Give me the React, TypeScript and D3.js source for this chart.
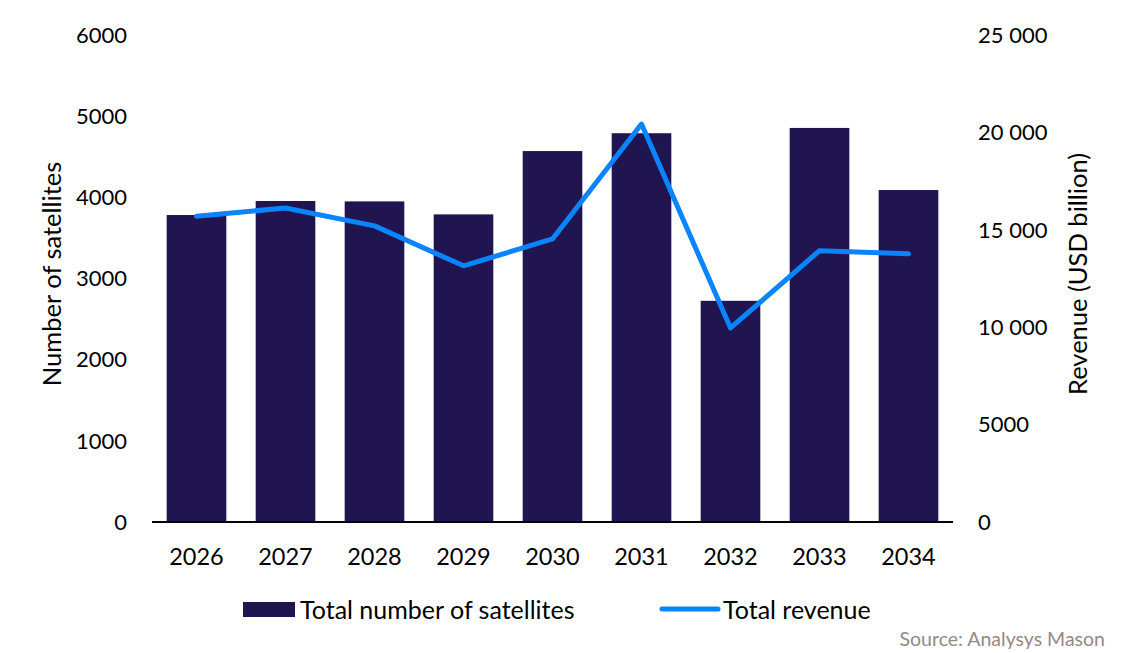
import React from 'react';
import * as d3 from 'd3';

const years = ['2026', '2027', '2028', '2029', '2030', '2031', '2032', '2033', '2034'];
const satellites = [3782, 3955, 3950, 3790, 4570, 4790, 2725, 4855, 4090];
const revenue = [15700, 16120, 15200, 13150, 14530, 20430, 9960, 13930, 13770];
const leftTicks = [0, 1000, 2000, 3000, 4000, 5000, 6000];
const rightTicks = [0, 5000, 10000, 15000, 20000, 25000];

const W = 1125;
const H = 653;
const font = 'Lato, "Open Sans", sans-serif';

const App = () => {
  const x = d3.scaleBand().domain(years).range([152, 953]).paddingInner(0.33).paddingOuter(0.165);
  const yL = d3.scaleLinear().domain([0, 6000]).range([522, 35]);
  const yR = d3.scaleLinear().domain([0, 25000]).range([522, 35]);

  const line = d3.line<number>()
    .x((_, i) => x(years[i])! + x.bandwidth() / 2)
    .y(d => yR(d));

  const fmtR = (v: number) => (v >= 10000 ? d3.format(',')(v).replace(',', ' ') : String(v));

  return (
    <svg width={W} height={H} style={{ display: 'block', position: 'absolute', left: 0, top: 0 }} fontFamily={font}>
      <rect width={W} height={H} fill="#fff" />
      {years.map((yr, i) => (
        <rect key={yr} x={x(yr)} y={yL(satellites[i])} width={x.bandwidth()} height={522 - yL(satellites[i])} fill="#211551" />
      ))}
      <line x1={152} x2={953} y1={522} y2={522} stroke="#000" strokeWidth={2} />
      <path d={line(revenue) || ''} fill="none" stroke="#0A84FF" strokeWidth={5} strokeLinecap="round" strokeLinejoin="round" />

      {leftTicks.map(t => (
        <text key={t} x={127} y={yL(t)} dy="0.35em" textAnchor="end" fontSize={22} fill="#000">{t}</text>
      ))}
      {rightTicks.map(t => (
        <text key={t} x={978} y={yR(t)} dy="0.35em" textAnchor="start" fontSize={22} fill="#000">{fmtR(t)}</text>
      ))}
      {years.map(yr => (
        <text key={yr} x={x(yr)! + x.bandwidth() / 2} y={557} dy="0.35em" textAnchor="middle" fontSize={23.5} fill="#000">{yr}</text>
      ))}

      <text transform="translate(52,274) rotate(-90)" textAnchor="middle" dy="0.35em" fontSize={25.5} fill="#000">Number of satellites</text>
      <text transform="translate(1078,274) rotate(-90)" textAnchor="middle" dy="0.35em" fontSize={25.5} fill="#000">Revenue (USD billion)</text>

      <rect x={243} y={602} width={52} height={15} fill="#211551" />
      <text x={300} y={610} dy="0.35em" fontSize={25} fill="#000">Total number of satellites</text>
      <line x1={662} x2={718} y1={609} y2={609} stroke="#0A84FF" strokeWidth={5} strokeLinecap="round" />
      <text x={723} y={610} dy="0.35em" fontSize={25} fill="#000">Total revenue</text>

      <text x={1105} y={639} dy="0.35em" textAnchor="end" fontSize={19.5} fill="#948a84">Source: Analysys Mason</text>
    </svg>
  );
};

export default App;
